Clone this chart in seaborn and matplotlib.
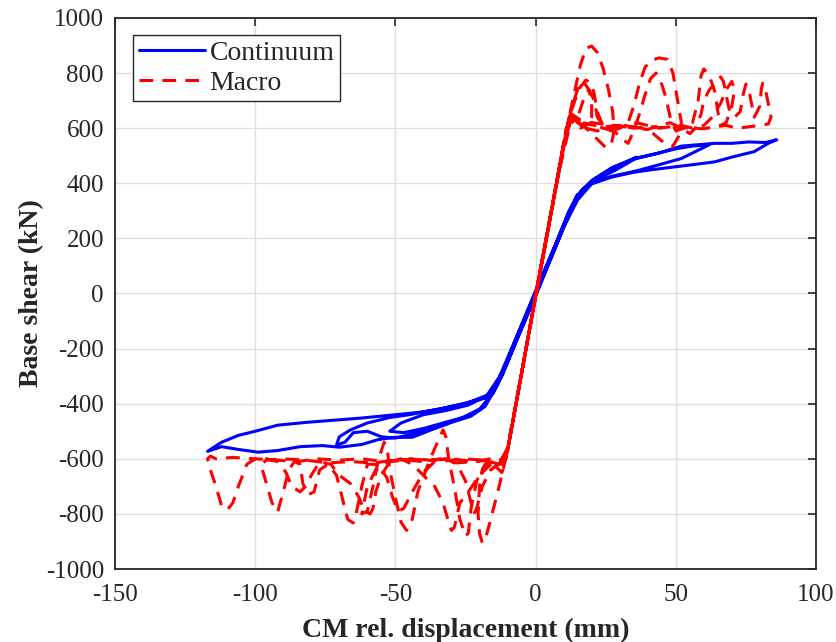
import numpy as np
import pandas as pd
import matplotlib
matplotlib.use("Agg")
import matplotlib.pyplot as plt
from matplotlib.lines import Line2D
import seaborn as sns

# ---- Continuum model (blue) ----
cont_c1_x = [0, 6, 12, 15, 12, 6, 0, -6, -12, -16, -12, -6, 0]
cont_c1_y = [0, 140, 290, 360, 300, 150, 10, -140, -290, -360, -300, -150, -5]

cont_c2_x = [6, 12, 16, 20, 26, 32, 36, 34, 28, 22, 17, 13, 6, 0, -6, -12, -17, -24, -32, -40,
             -48, -52, -47, -40, -33, -26, -20, -15, -10, -5, 0]
cont_c2_y = [145, 295, 365, 405, 445, 475, 495, 480, 445, 415, 380, 310, 150, 5, -140, -290, -370,
             -405, -425, -440, -470, -500, -505, -490, -470, -450, -420, -360, -250, -125, 0]

cont_c3_x = [6, 12, 16, 20, 27, 35, 42, 50, 56, 62, 58, 52, 45, 36, 27, 20, 16, 12, 6, 0, -6, -12,
             -17, -25, -35, -45, -52, -60, -66, -70, -71, -68, -65, -60, -55, -50, -44, -37, -30,
             -24, -19, -14, -8, 0]
cont_c3_y = [150, 300, 370, 410, 455, 490, 505, 525, 535, 540, 520, 490, 470, 445, 425, 400, 360,
             290, 150, 0, -140, -295, -368, -400, -420, -440, -450, -470, -495, -520, -550, -540,
             -505, -500, -520, -525, -510, -490, -465, -445, -415, -340, -200, -10]

cont_c4_x = [6, 12, 16, 21, 28, 36, 44, 52, 58, 64, 70, 76, 82, 86, 83, 78, 70, 64, 58, 50, 42, 35,
             27, 20, 15, 10, 5, 0, -6, -13, -18, -26, -34, -42, -52, -62, -72, -82, -92, -100, -106,
             -112, -117, -112, -106, -99, -92, -84, -76, -70, -62, -56, -50, -44, -38, -30, -23, -18,
             -13, -7, 0]
cont_c4_y = [140, 290, 365, 415, 460, 490, 510, 535, 540, 545, 545, 550, 548, 558, 545, 515, 495,
             478, 470, 460, 450, 440, 422, 398, 340, 240, 120, 0, -140, -305, -380, -400, -420, -432,
             -442, -452, -460, -468, -478, -500, -515, -540, -573, -556, -566, -576, -570, -556,
             -552, -558, -548, -530, -522, -522, -498, -468, -445, -410, -320, -170, 0]

# ---- Macro model (red, dashed) ----
mac_p1_x = [0, 5, 10, 13, 16, 18, 20, 22, 24, 26, 27.5, 28, 27, 25, 22, 18, 15, 13, 11, 8, 4, 0]
mac_p1_y = [0, 265, 540, 690, 830, 890, 898, 875, 820, 740, 660, 590, 540, 530, 560, 600, 620, 640,
            600, 430, 210, -10]

mac_p0_x = [5, 10, 13, 15, 17, 19, 20, 20, 18, 15, 13, 11, 8, 4, 0]
mac_p0_y = [265, 540, 680, 740, 770, 740, 690, 640, 610, 620, 640, 600, 430, 210, -10]

mac_n1_x = [-5, -10, -13, -16, -18, -19, -20, -20.5, -20, -19, -17, -15, -12, -11, -8, -4, 0]
mac_n1_y = [-290, -570, -700, -820, -895, -905, -870, -800, -700, -640, -610, -620, -650, -620,
            -460, -230, -10]

mac_p2_x = [5, 10, 12, 14, 16, 18, 20, 21, 22, 24, 27, 30, 33, 35, 37, 39, 41, 44, 47, 49, 50, 51,
            52, 51, 49, 46, 42, 38, 34, 30, 26, 22, 18, 14, 12, 8, 4, 0]
mac_p2_y = [265, 540, 640, 700, 750, 775, 760, 720, 660, 610, 590, 600, 620, 680, 760, 820, 845,
            855, 850, 800, 740, 680, 620, 570, 535, 545, 580, 600, 605, 610, 600, 590, 600, 640,
            600, 430, 210, -10]

mac_n2_x = [-5, -10, -12, -15, -18, -21, -23, -24, -25, -27, -29, -31, -32, -33, -35, -38, -42, -44,
            -46, -48, -50, -52, -53, -54, -56, -58, -60, -62, -60, -57, -52, -46, -40, -34, -28,
            -22, -16, -12, -10, -5, 0]
mac_n2_y = [-290, -560, -600, -610, -620, -680, -780, -870, -880, -820, -700, -600, -520, -495,
            -540, -610, -720, -820, -860, -830, -740, -640, -560, -540, -600, -700, -790, -800,
            -700, -640, -610, -605, -610, -600, -615, -610, -605, -620, -570, -290, -10]

mac_p3_x = [5, 10, 12, 15, 17, 19, 21, 22, 25, 28, 31, 33, 35, 37, 39, 41, 43, 45, 46.5, 48, 50, 53,
            56, 58, 59, 60, 62, 64, 65, 66, 68, 70, 71, 70, 68, 66, 63, 60, 56, 52, 48, 44, 40, 36,
            32, 28, 24, 20, 16, 13, 11, 7, 3, 0]
mac_p3_y = [265, 540, 620, 640, 700, 740, 700, 640, 600, 590, 560, 545, 590, 650, 720, 780, 800,
            760, 710, 640, 590, 600, 620, 700, 790, 815, 790, 730, 660, 610, 620, 680, 740, 770,
            740, 690, 640, 610, 600, 610, 605, 600, 610, 620, 605, 610, 615, 620, 630, 650, 580,
            370, 150, -10]

mac_n3_x = [-5, -10, -12, -16, -19, -21, -22, -23, -25, -28, -32, -36, -40, -44, -47, -49, -51, -53,
            -56, -60, -62, -64, -65, -67, -69, -71, -74, -77, -79, -81, -83, -84, -86, -88, -90,
            -92, -94, -96, -98, -96, -90, -82, -74, -66, -58, -50, -42, -34, -26, -18, -13, -10,
            -5, 0]
mac_n3_y = [-290, -570, -610, -640, -700, -780, -800, -760, -680, -620, -600, -610, -650, -720,
            -780, -790, -740, -670, -620, -620, -700, -800, -833, -820, -740, -660, -620, -640,
            -720, -730, -690, -620, -610, -640, -720, -793, -760, -690, -620, -605, -600, -605,
            -615, -610, -615, -605, -600, -610, -600, -605, -620, -570, -290, -10]

mac_p4_x = [5, 10, 12, 16, 20, 24, 28, 32, 36, 40, 44, 48, 52, 55, 57, 59, 60, 62, 64, 66, 67, 68,
            69, 71, 73, 74, 75, 76, 77, 78, 80, 80.5, 81, 82, 83, 84, 83, 80, 76, 72, 68, 64, 60,
            55, 50, 45, 40, 35, 30, 25, 20, 15, 12, 11, 7, 3, 0]
mac_p4_y = [265, 540, 610, 600, 620, 600, 590, 610, 600, 595, 610, 620, 600, 580, 600, 650, 700,
            740, 760, 786, 770, 720, 670, 640, 660, 720, 760, 745, 690, 640, 680, 740, 763, 740,
            690, 640, 615, 610, 605, 600, 610, 605, 598, 600, 605, 602, 606, 600, 610, 605, 612,
            625, 640, 580, 370, 150, -10]

mac_n4_x = [-5, -10, -12, -16, -20, -24, -27, -29, -30, -31, -33, -36, -40, -44, -48, -52, -55, -57,
            -58, -59, -61, -63, -66, -70, -73, -77, -80, -82, -84, -87, -89, -92, -96, -100, -103,
            -106, -108, -110, -112, -114, -116, -117, -116, -114, -108, -100, -92, -85, -78, -70,
            -62, -54, -46, -38, -30, -22, -16, -12, -10, -5, 0]
mac_n4_y = [-290, -570, -600, -620, -660, -720, -760, -850, -860, -830, -760, -700, -660, -620,
            -600, -610, -660, -720, -780, -800, -790, -740, -690, -660, -620, -610, -660, -700,
            -720, -700, -650, -610, -600, -600, -620, -700, -760, -786, -770, -700, -640, -600,
            -590, -600, -595, -600, -605, -610, -600, -605, -600, -610, -600, -605, -600, -610,
            -600, -610, -570, -290, -10]

cont_x = cont_c1_x + cont_c2_x + cont_c3_x + cont_c4_x
cont_y = cont_c1_y + cont_c2_y + cont_c3_y + cont_c4_y
mac_x = (mac_p1_x + mac_n1_x + mac_p0_x + mac_p2_x + mac_n2_x + mac_p3_x + mac_n3_x
         + mac_p4_x + mac_n4_x)
mac_y = (mac_p1_y + mac_n1_y + mac_p0_y + mac_p2_y + mac_n2_y + mac_p3_y + mac_n3_y
         + mac_p4_y + mac_n4_y)

df = pd.DataFrame({
    'disp': cont_x + mac_x,
    'shear': cont_y + mac_y,
    'model': ['Continuum'] * len(cont_x) + ['Macro'] * len(mac_x),
})

sns.set_theme(style='whitegrid')
plt.rcParams['font.family'] = ['Liberation Serif', 'DejaVu Serif']
plt.rcParams['axes.unicode_minus'] = False

fig = plt.figure(figsize=(8.36, 6.42), dpi=100)
ax = fig.add_axes([0.1376, 0.1137, 0.8384, 0.8583])

palette = {'Continuum': '#0000ff', 'Macro': '#ff0000'}
dashes = {'Continuum': '', 'Macro': (4.5, 3.0)}
sns.lineplot(data=df, x='disp', y='shear', hue='model', style='model', palette=palette,
             dashes=dashes, sort=False, estimator=None, linewidth=2.2, legend=False, ax=ax)

ax.set_xlim(-150, 100)
ax.set_ylim(-1000, 1000)
ax.set_xticks(np.arange(-150, 101, 50))
ax.set_yticks(np.arange(-1000, 1001, 200))
ax.grid(True, color='#dedede', linewidth=0.9)
ax.set_facecolor('white')
for s in ax.spines.values():
    s.set_color('#262626')
    s.set_linewidth(1.3)
ax.tick_params(direction='in', length=6, width=1.2, colors='#262626', labelsize=18,
               top=True, right=True, labelcolor='#262626')
ax.tick_params(axis='x', pad=11)
ax.tick_params(axis='y', pad=8)

ax.set_xlabel('CM rel. displacement (mm)', fontsize=20, fontweight='bold', color='#262626',
              labelpad=8)
ax.set_ylabel('Base shear (kN)', fontsize=20, fontweight='bold', color='#262626', labelpad=1)

handles = [Line2D([], [], color='#0000ff', lw=2.2),
           Line2D([], [], color='#ff0000', lw=2.2, dashes=(4.5, 3.0))]
leg = ax.legend(handles, ['Continuum', 'Macro'], loc='upper left',
                bbox_to_anchor=(0.0257, 0.969), borderaxespad=0, fontsize=20,
                frameon=True, fancybox=False, framealpha=1, edgecolor='#262626',
                handlelength=2.4, handletextpad=0.15, labelspacing=0.15, borderpad=0.2)
leg.get_frame().set_linewidth(1.0)

fig.savefig('out.png', dpi=100)
